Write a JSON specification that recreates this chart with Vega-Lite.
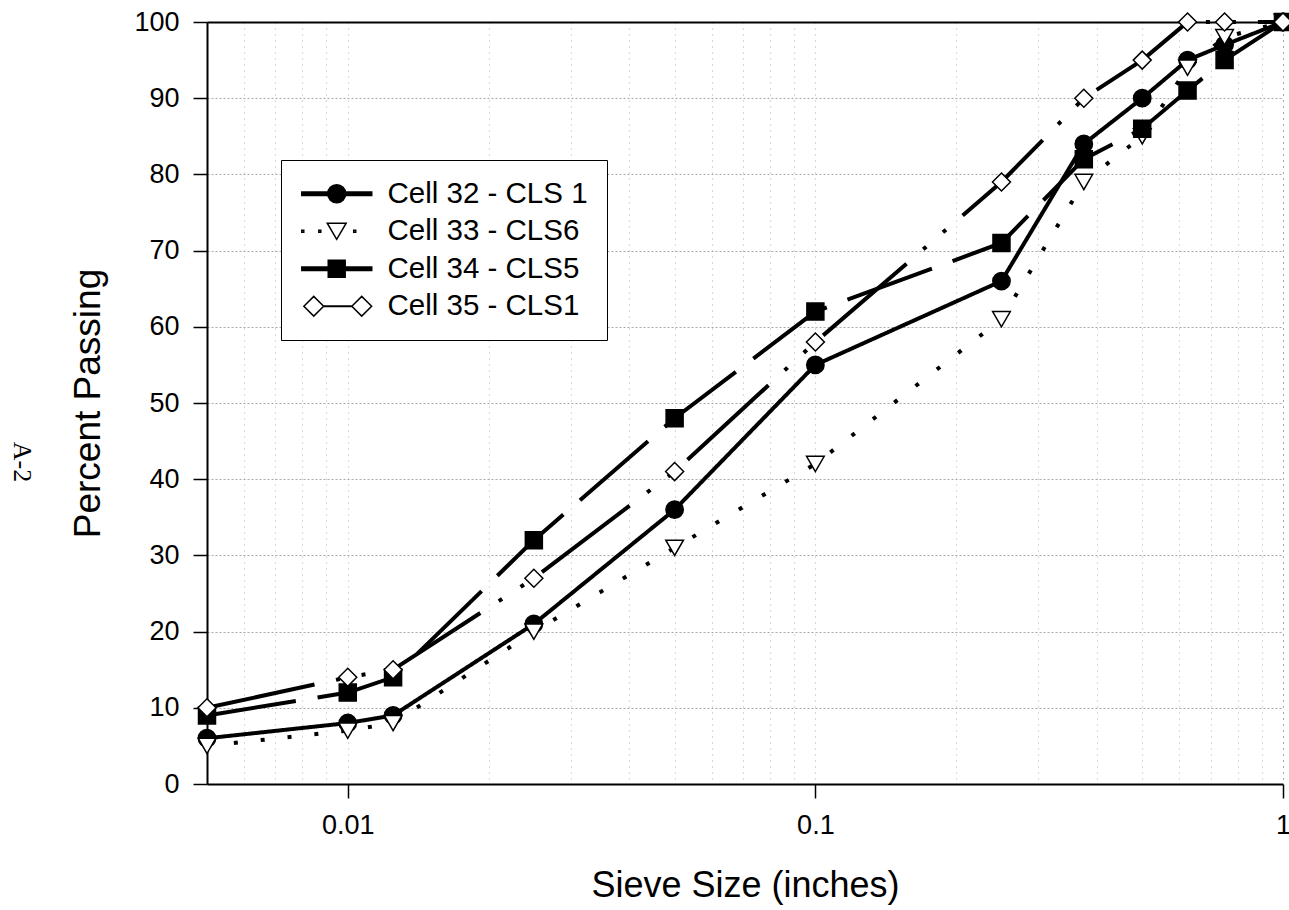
{
  "$schema": "https://vega.github.io/schema/vega-lite/v6.json",
  "width": 1076,
  "height": 762,
  "autosize": "none",
  "padding": {"left": 207, "top": 22, "right": 6, "bottom": 126},
  "background": "white",
  "title": {"text": "A-2", "orient": "left", "angle": 90, "font": "Liberation Serif", "fontSize": 26, "fontWeight": "normal", "color": "black", "offset": 34, "anchor": "middle", "dx": 59, "dy": -25},
  "config": {"view": {"stroke": null}, "font": "Liberation Sans"},
  "data": {"values": [
    {"size": 0.005, "pct": 6, "series": "Cell 32 - CLS 1"},
    {"size": 0.01, "pct": 8, "series": "Cell 32 - CLS 1"},
    {"size": 0.0125, "pct": 9, "series": "Cell 32 - CLS 1"},
    {"size": 0.025, "pct": 21, "series": "Cell 32 - CLS 1"},
    {"size": 0.05, "pct": 36, "series": "Cell 32 - CLS 1"},
    {"size": 0.1, "pct": 55, "series": "Cell 32 - CLS 1"},
    {"size": 0.25, "pct": 66, "series": "Cell 32 - CLS 1"},
    {"size": 0.375, "pct": 84, "series": "Cell 32 - CLS 1"},
    {"size": 0.5, "pct": 90, "series": "Cell 32 - CLS 1"},
    {"size": 0.625, "pct": 95, "series": "Cell 32 - CLS 1"},
    {"size": 0.75, "pct": 97, "series": "Cell 32 - CLS 1"},
    {"size": 1, "pct": 100, "series": "Cell 32 - CLS 1"},
    {"size": 0.005, "pct": 5, "series": "Cell 33 - CLS6"},
    {"size": 0.01, "pct": 7, "series": "Cell 33 - CLS6"},
    {"size": 0.0125, "pct": 8, "series": "Cell 33 - CLS6"},
    {"size": 0.025, "pct": 20, "series": "Cell 33 - CLS6"},
    {"size": 0.05, "pct": 31, "series": "Cell 33 - CLS6"},
    {"size": 0.1, "pct": 42, "series": "Cell 33 - CLS6"},
    {"size": 0.25, "pct": 61, "series": "Cell 33 - CLS6"},
    {"size": 0.375, "pct": 79, "series": "Cell 33 - CLS6"},
    {"size": 0.5, "pct": 85, "series": "Cell 33 - CLS6"},
    {"size": 0.625, "pct": 94, "series": "Cell 33 - CLS6"},
    {"size": 0.75, "pct": 98, "series": "Cell 33 - CLS6"},
    {"size": 1, "pct": 100, "series": "Cell 33 - CLS6"},
    {"size": 0.005, "pct": 9, "series": "Cell 34 - CLS5"},
    {"size": 0.01, "pct": 12, "series": "Cell 34 - CLS5"},
    {"size": 0.0125, "pct": 14, "series": "Cell 34 - CLS5"},
    {"size": 0.025, "pct": 32, "series": "Cell 34 - CLS5"},
    {"size": 0.05, "pct": 48, "series": "Cell 34 - CLS5"},
    {"size": 0.1, "pct": 62, "series": "Cell 34 - CLS5"},
    {"size": 0.25, "pct": 71, "series": "Cell 34 - CLS5"},
    {"size": 0.375, "pct": 82, "series": "Cell 34 - CLS5"},
    {"size": 0.5, "pct": 86, "series": "Cell 34 - CLS5"},
    {"size": 0.625, "pct": 91, "series": "Cell 34 - CLS5"},
    {"size": 0.75, "pct": 95, "series": "Cell 34 - CLS5"},
    {"size": 1, "pct": 100, "series": "Cell 34 - CLS5"},
    {"size": 0.005, "pct": 10, "series": "Cell 35 - CLS1"},
    {"size": 0.01, "pct": 14, "series": "Cell 35 - CLS1"},
    {"size": 0.0125, "pct": 15, "series": "Cell 35 - CLS1"},
    {"size": 0.025, "pct": 27, "series": "Cell 35 - CLS1"},
    {"size": 0.05, "pct": 41, "series": "Cell 35 - CLS1"},
    {"size": 0.1, "pct": 58, "series": "Cell 35 - CLS1"},
    {"size": 0.25, "pct": 79, "series": "Cell 35 - CLS1"},
    {"size": 0.375, "pct": 90, "series": "Cell 35 - CLS1"},
    {"size": 0.5, "pct": 95, "series": "Cell 35 - CLS1"},
    {"size": 0.625, "pct": 100, "series": "Cell 35 - CLS1"},
    {"size": 0.75, "pct": 100, "series": "Cell 35 - CLS1"},
    {"size": 1, "pct": 100, "series": "Cell 35 - CLS1"}
  ]},
  "encoding": {
    "x": {"field": "size", "type": "quantitative", "title": "Sieve Size (inches)",
      "scale": {"type": "log", "domain": [0.005, 1], "nice": false},
      "axis": {
        "values": [0.005, 0.006, 0.007, 0.008, 0.009, 0.01, 0.02, 0.03, 0.04, 0.05, 0.06, 0.07, 0.08, 0.09, 0.1, 0.2, 0.3, 0.4, 0.5, 0.6, 0.7, 0.8, 0.9, 1],
        "labelExpr": "datum.value == 0.01 ? '0.01' : datum.value == 0.1 ? '0.1' : datum.value == 1 ? '1' : ''",
        "tickOpacity": {"condition": {"test": "datum.value == 0.01 || datum.value == 0.1 || datum.value == 1", "value": 1}, "value": 0},
        "tickSize": 14, "tickColor": "black", "tickWidth": 1.5,
        "domainColor": "black", "domainWidth": 2,
        "labelFontSize": 27, "labelColor": "black", "labelPadding": 14, "labelFlush": false, "labelOverlap": false,
        "grid": true,
        "gridColor": {"condition": {"test": "datum.value == 1", "value": "#555555"}, "value": "#b0b0b0"},
        "gridDash": [1, 5], "gridWidth": 1,
        "titleFontSize": 36, "titleFontWeight": "normal", "titleColor": "black", "titlePadding": 30
      }
    },
    "y": {"field": "pct", "type": "quantitative", "title": "Percent Passing",
      "scale": {"domain": [0, 100], "nice": false},
      "axis": {
        "values": [0, 10, 20, 30, 40, 50, 60, 70, 80, 90, 100],
        "tickSize": 14, "tickColor": "black", "tickWidth": 1.5,
        "domainColor": "black", "domainWidth": 2,
        "labelFontSize": 27, "labelColor": "black", "labelPadding": 14, "labelFlush": false,
        "grid": true,
        "gridColor": {"condition": {"test": "datum.value == 100", "value": "black"}, "value": "#a8a8a8"},
        "gridDash": {"condition": {"test": "datum.value == 100", "value": [1, 0]}, "value": [2, 2]},
        "gridWidth": {"condition": {"test": "datum.value == 100", "value": 2}, "value": 1},
        "titleFontSize": 37, "titleFontWeight": "normal", "titleColor": "black", "titlePadding": 26
      }
    }
  },
  "resolve": {"scale": {"shape": "independent", "fill": "independent", "size": "independent"}},
  "layer": [
    {
      "mark": {"type": "line", "strokeWidth": 4, "color": "black", "strokeCap": "butt"},
      "encoding": {
        "strokeDash": {"field": "series", "type": "nominal",
          "scale": {"domain": ["Cell 35 - CLS1", "Cell 32 - CLS 1", "Cell 33 - CLS6", "Cell 34 - CLS5"],
                    "range": [[110, 22, 4, 22, 4, 22], [1, 0], [4, 23], [90, 22]]},
          "legend": null}
      }
    },
    {
      "mark": {"type": "point", "filled": true, "stroke": "black", "strokeWidth": 1.5, "opacity": 1},
      "encoding": {
        "fill": {"field": "series", "type": "nominal",
          "scale": {"domain": ["Cell 33 - CLS6", "Cell 32 - CLS 1", "Cell 34 - CLS5", "Cell 35 - CLS1"], "range": ["white", "black", "black", "white"]},
          "legend": null},
        "size": {"field": "series", "type": "nominal",
          "scale": {"domain": ["Cell 34 - CLS5", "Cell 32 - CLS 1", "Cell 33 - CLS6", "Cell 35 - CLS1"], "range": [289, 324, 440, 520]},
          "legend": null},
        "shape": {"field": "series", "type": "nominal",
          "scale": {"domain": ["Cell 35 - CLS1", "Cell 34 - CLS5", "Cell 33 - CLS6", "Cell 32 - CLS 1"], "range": ["diamond", "square", "triangle-down", "circle"]},
          "legend": null}
      }
    },
    {
      "transform": [{"filter": "false"}],
      "mark": {"type": "point", "filled": true, "stroke": "black", "strokeWidth": 1.5},
      "encoding": {
        "fill": {"field": "series", "type": "nominal",
          "scale": {"domain": ["Cell 32 - CLS 1", "Cell 33 - CLS6", "Cell 34 - CLS5", "Cell 35 - CLS1"], "range": ["black", "white", "black", "white"]},
          "legend": {}},
        "shape": {"field": "series", "type": "nominal",
          "scale": {"domain": ["Cell 32 - CLS 1", "Cell 33 - CLS6", "Cell 34 - CLS5", "Cell 35 - CLS1"],
                    "range": [
                      "M-1.44,-0.2H6.33V0.2H-1.44Z M3.44,0A1,1,0,1,1,1.44,0A1,1,0,1,1,3.44,0Z",
                      "M2.44,0.9L1.39,-0.9L3.49,-0.9Z M-1.44,-0.11h0.22v0.22h-0.22Z M0.45,-0.11h0.22v0.22h-0.22Z M4.33,-0.11h0.22v0.22h-0.22Z",
                      "M-1.44,-0.2H6.33V0.2H-1.44Z M1.5,-0.94H3.38V0.94H1.5Z",
                      "M-1.21,0L-0.11,-1.1L0.99,0L-0.11,1.1Z M4.12,0L5.22,-1.1L6.32,0L5.22,1.1Z M0.99,-0.04H4.12V0.04H0.99Z"
                    ]},
          "legend": {
            "title": null, "orient": "none", "legendX": 74, "legendY": 138,
            "labelFontSize": 29.5, "labelFont": "Liberation Sans", "labelColor": "black", "labelOffset": 58, "labelLimit": 400,
            "rowPadding": 6.5, "padding": 19, "strokeColor": "black", "fillColor": "white", "symbolSize": 324,
            "symbolOpacity": 1, "symbolStrokeWidth": 1.5
          }
        }
      }
    }
  ]
}
